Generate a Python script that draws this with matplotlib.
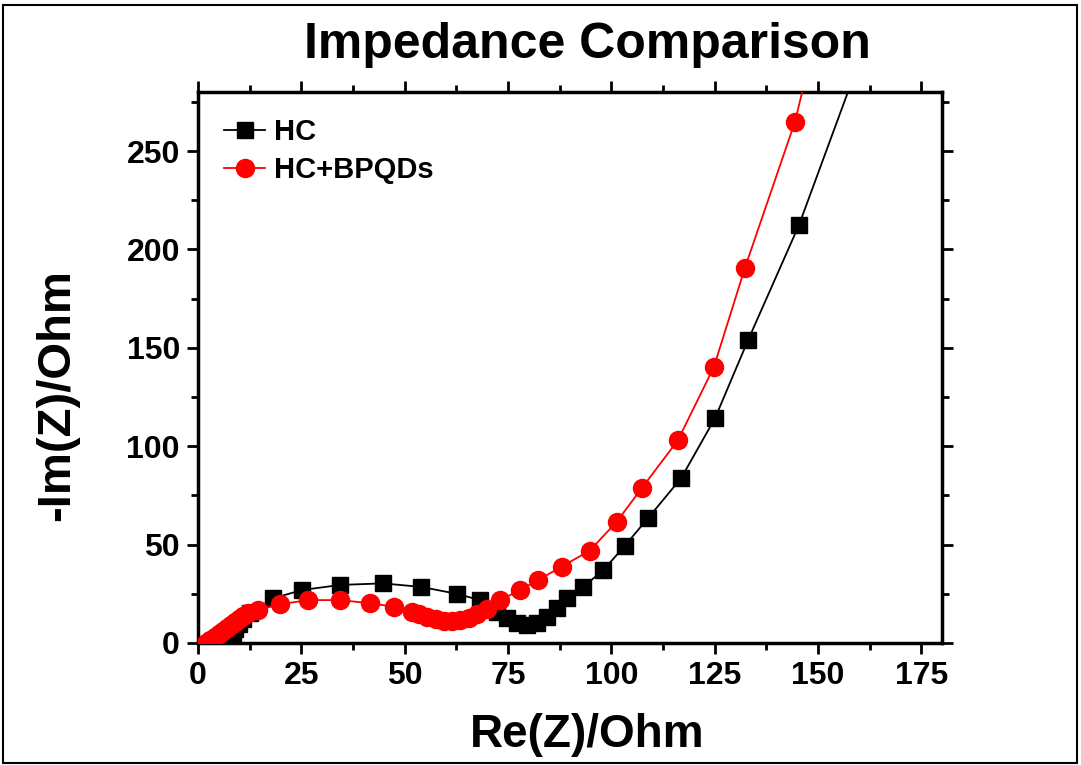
import matplotlib
matplotlib.use("Agg")
import matplotlib.pyplot as plt
from matplotlib.ticker import MultipleLocator
from matplotlib.patches import Rectangle

plt.rcParams['font.family'] = ['Liberation Sans', 'DejaVu Sans']
plt.rcParams['font.weight'] = 'bold'

# Nyquist data (Ohm)
hc_re = [7.0, 7.5, 8.0, 8.5, 9.0, 10.0, 11.0, 12.5, 18.2, 25.1, 34.4, 44.7, 54.0,
         62.6, 68.2, 72.3, 74.7, 77.1, 79.5, 81.9, 84.4, 86.8, 89.2, 93.2, 98.1,
         103.3, 108.9, 116.9, 125.1, 133.1, 145.4, 159.0]
hc_im = [0.0, 1.5, 3.0, 5.0, 7.0, 9.5, 12.0, 15.0, 22.7, 26.9, 29.5, 30.3, 28.5,
         25.0, 21.8, 15.9, 12.5, 10.0, 9.1, 10.0, 13.4, 17.6, 22.7, 28.6, 37.1,
         49.5, 63.5, 83.8, 114.3, 154.0, 212.4, 290.0]

bp_re = [2.0, 3.0, 4.0, 5.0, 6.0, 7.0, 8.0, 9.0, 10.0, 11.0, 12.0, 14.6, 19.8,
         26.7, 34.4, 41.6, 47.3, 51.7, 53.5, 55.5, 57.5, 59.5, 61.5, 63.5, 65.5,
         67.5, 70.0, 73.1, 77.9, 82.3, 88.0, 94.8, 101.3, 107.4, 116.1, 124.8,
         132.3, 144.4, 148.5]
bp_im = [0.0, 1.5, 3.0, 4.5, 6.0, 7.5, 9.0, 10.5, 12.0, 13.5, 15.0, 16.8, 19.7,
         21.8, 21.8, 20.2, 18.5, 15.9, 14.5, 13.2, 12.0, 11.2, 11.0, 11.5, 12.8,
         14.8, 17.5, 21.8, 26.9, 32.0, 38.8, 47.0, 61.6, 78.8, 103.0, 140.2,
         190.5, 264.7, 300.0]

W, H = 1081, 765
fig = plt.figure(figsize=(W / 100, H / 100), dpi=100)
ax = fig.add_axes([198 / W, 1 - 643 / H, (942 - 198) / W, (643 - 92) / H])

ax.plot(hc_re, hc_im, color='black', lw=1.3, marker='s', ms=11,
        markerfacecolor='black', markeredgecolor='black', label='HC', zorder=2)
ax.plot(bp_re, bp_im, color='red', lw=1.3, marker='o', ms=13,
        markerfacecolor='red', markeredgecolor='red', label='HC+BPQDs', zorder=3)

ax.set_xlim(0, 180)
ax.set_ylim(0, 280)
ax.xaxis.set_major_locator(MultipleLocator(25))
ax.xaxis.set_minor_locator(MultipleLocator(12.5))
ax.yaxis.set_major_locator(MultipleLocator(50))
ax.yaxis.set_minor_locator(MultipleLocator(25))
ax.tick_params(which='both', direction='out', top=True, right=True, width=2)
ax.tick_params(which='major', length=8, labelsize=23, pad=5)
ax.tick_params(which='minor', length=5)
for lab in ax.get_xticklabels() + ax.get_yticklabels():
    lab.set_fontweight('bold')
for sp in ax.spines.values():
    sp.set_linewidth(2.5)

leg = ax.legend(loc='upper left', frameon=False, fontsize=21,
                handlelength=1.4, handletextpad=0.3, borderaxespad=0.4,
                labelspacing=0.35, borderpad=0.5)
for t in leg.get_texts():
    t.set_fontweight('bold')

fig.text(587 / W, 1 - 45 / H, 'Impedance Comparison', ha='center', va='center',
         fontsize=36, fontweight='bold')
fig.text(587 / W, 1 - 735 / H, 'Re(Z)/Ohm', ha='center', va='center',
         fontsize=33, fontweight='bold')
fig.text(57 / W, 1 - 395 / H, '-Im(Z)/Ohm', ha='center', va='center',
         fontsize=34, fontweight='bold', rotation=90)

fig.patches.append(Rectangle((3 / W, 2 / H), (1077 - 3) / W, (760 - 2) / H,
                             transform=fig.transFigure, fill=False,
                             edgecolor='black', lw=1.5))

fig.savefig('out.png', dpi=100)
